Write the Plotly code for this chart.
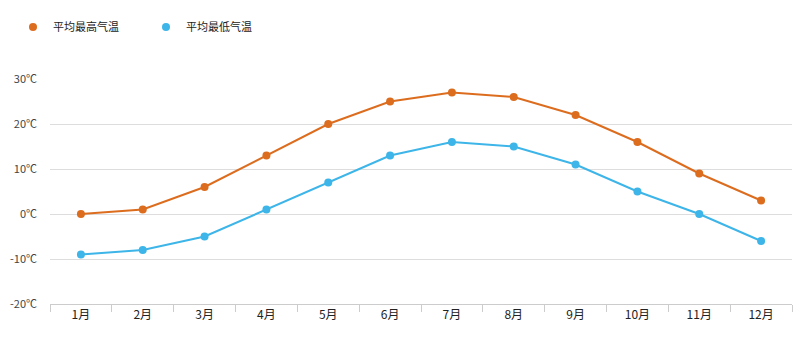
import plotly.graph_objects as go

months = ["1月", "2月", "3月", "4月", "5月", "6月", "7月", "8月", "9月", "10月", "11月", "12月"]
high_temp = [0, 1, 6, 13, 20, 25, 27, 26, 22, 16, 9, 3]
low_temp = [-9, -8, -5, 1, 7, 13, 16, 15, 11, 5, 0, -6]
series_names = ["平均最高气温", "平均最低气温"]
series_colors = ["#dc6d1f", "#3db5e8"]
y_ticks = [-20, -10, 0, 10, 20, 30]
y_tick_labels = [f"{v}℃" for v in y_ticks]

font_family = "Noto Sans CJK SC, Noto Sans, sans-serif"

fig = go.Figure()
for name, vals, color in zip(series_names, [high_temp, low_temp], series_colors):
    fig.add_trace(go.Scatter(
        x=months, y=vals, name=name, mode="lines+markers", showlegend=False,
        line=dict(color=color, width=2), marker=dict(size=8, color=color),
    ))
for name, color in zip(series_names, series_colors):
    fig.add_trace(go.Scatter(
        x=[None], y=[None], name=name, mode="markers", showlegend=True,
        marker=dict(size=8, color=color),
    ))

fig.update_layout(
    width=800, height=344,
    margin=dict(l=50, r=8, t=79, b=40),
    paper_bgcolor="white", plot_bgcolor="white",
    font=dict(family=font_family, size=11, color="#444"),
    showlegend=True,
    legend=dict(
        orientation="h", xref="container", yref="container",
        x=13 / 800, y=1 - 27 / 344, xanchor="left", yanchor="middle",
        font=dict(size=11, color="#222"), itemwidth=30,
        bgcolor="rgba(0,0,0,0)", tracegroupgap=0, entrywidth=88,
    ),
    xaxis=dict(
        type="category", range=[-0.5, 11.5],
        showgrid=False, showline=True, linecolor="#cccccc", linewidth=1,
        ticks="outside", tickson="boundaries", ticklen=7, tickcolor="#cccccc",
        tickfont=dict(size=12, color="#222"), fixedrange=True,
    ),
    yaxis=dict(
        range=[-20, 30], tickvals=y_ticks, ticktext=y_tick_labels,
        showgrid=True, gridcolor="#dddddd", gridwidth=1,
        zeroline=False, showline=False, ticks="", ticklabelstandoff=12,
        tickfont=dict(size=11, color="#444"),
    ),
)

fig.write_html("out.html")
